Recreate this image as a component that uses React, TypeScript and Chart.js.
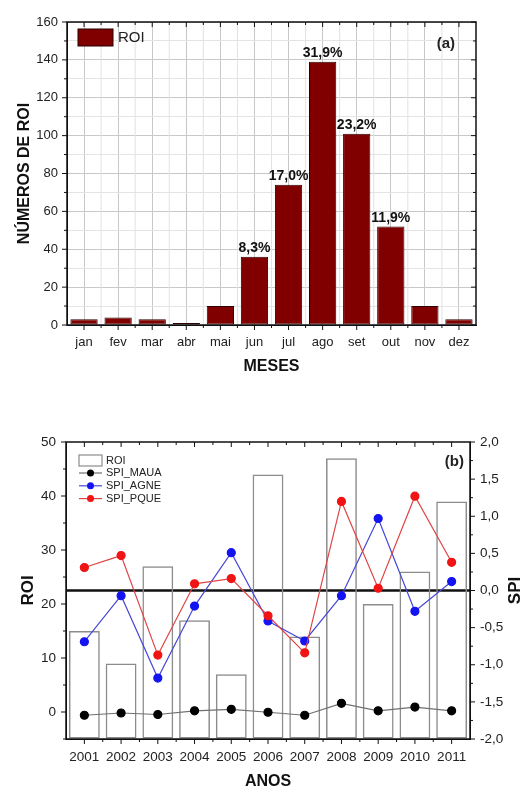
import React, { useEffect, useRef } from 'react';
import { Chart, registerables } from 'chart.js';

Chart.register(...registerables);

const FONT = "'Liberation Sans', Arial, Helvetica, sans-serif";

// ---- Chart (a) data ----
const months = ['jan', 'fev', 'mar', 'abr', 'mai', 'jun', 'jul', 'ago', 'set', 'out', 'nov', 'dez'];
const roiMonthly = [3, 4, 3, 1, 10, 36, 74, 139, 101, 52, 10, 3];
const pctLabels = ['', '', '', '', '', '8,3%', '17,0%', '31,9%', '23,2%', '11,9%', '', ''];
const yTicksA = [0, 20, 40, 60, 80, 100, 120, 140, 160];

// ---- Chart (b) data ----
const years = ['2001', '2002', '2003', '2004', '2005', '2006', '2007', '2008', '2009', '2010', '2011'];
const roiYearly = [15, 9, 27, 17, 7, 44, 14, 47, 20, 26, 39];
const spiMaua = [-1.68, -1.65, -1.67, -1.62, -1.6, -1.64, -1.68, -1.52, -1.62, -1.57, -1.62];
const spiAgne = [-0.69, -0.07, -1.18, -0.21, 0.51, -0.41, -0.68, -0.07, 0.97, -0.28, 0.12];
const spiPque = [0.31, 0.47, -0.87, 0.09, 0.16, -0.34, -0.84, 1.2, 0.03, 1.27, 0.38];

function seg(ctx: CanvasRenderingContext2D, x1: number, y1: number, x2: number, y2: number) {
  ctx.beginPath();
  ctx.moveTo(x1, y1);
  ctx.lineTo(x2, y2);
  ctx.stroke();
}

function catCenters(scale: any, n: number) {
  const out: number[] = [];
  for (let i = 0; i < n; i++) out.push(scale.getPixelForTick(i));
  return out;
}
function catBounds(scale: any, n: number) {
  const out: number[] = [];
  for (let i = 0; i < n - 1; i++) out.push((scale.getPixelForTick(i) + scale.getPixelForTick(i + 1)) / 2);
  return out;
}

const decorA = {
  id: 'decorA',
  beforeDatasetsDraw(chart: any) {
    const { ctx, chartArea: a, scales } = chart;
    ctx.save();
    ctx.strokeStyle = '#e2e2e2';
    ctx.lineWidth = 1;
    catBounds(scales.x, months.length).forEach((x) => seg(ctx, x, a.top, x, a.bottom));
    ctx.restore();
  },
  afterDatasetsDraw(chart: any) {
    const { ctx } = chart;
    const meta = chart.getDatasetMeta(0);
    ctx.save();
    ctx.fillStyle = '#111';
    ctx.font = `bold 14px ${FONT}`;
    ctx.textAlign = 'center';
    ctx.textBaseline = 'alphabetic';
    meta.data.forEach((bar: any, i: number) => {
      if (pctLabels[i]) ctx.fillText(pctLabels[i], bar.x, bar.y - 5);
    });
    ctx.restore();
  },
  afterDraw(chart: any) {
    const { ctx, chartArea: a, scales } = chart;
    ctx.save();
    ctx.strokeStyle = '#111';
    ctx.lineWidth = 1.5;
    ctx.strokeRect(a.left, a.top, a.right - a.left, a.bottom - a.top);
    ctx.lineWidth = 1;
    catCenters(scales.x, months.length).forEach((x) => {
      seg(ctx, x, a.bottom, x, a.bottom + 5);
      seg(ctx, x, a.top, x, a.top + 5);
    });
    catBounds(scales.x, months.length).forEach((x) => {
      seg(ctx, x, a.bottom, x, a.bottom + 3);
      seg(ctx, x, a.top, x, a.top + 3);
    });
    for (let v = 0; v <= 160; v += 10) {
      const y = scales.y.getPixelForValue(v);
      const len = v % 20 === 0 ? 5 : 3;
      seg(ctx, a.left - len, y, a.left, y);
      seg(ctx, a.right - len, y, a.right, y);
    }
    // legend
    const ds = chart.data.datasets[0];
    ctx.fillStyle = '#800000';
    ctx.fillRect(78, 29, 35, 17);
    ctx.strokeStyle = '#2b0000';
    ctx.strokeRect(78, 29, 35, 17);
    ctx.fillStyle = '#222';
    ctx.font = `15px ${FONT}`;
    ctx.textAlign = 'left';
    ctx.textBaseline = 'middle';
    ctx.fillText(ds.label, 118, 38);
    ctx.font = `bold 15px ${FONT}`;
    ctx.textAlign = 'right';
    ctx.fillText('(a)', 455, 44);
    ctx.restore();
  },
};

const decorB = {
  id: 'decorB',
  beforeDatasetsDraw(chart: any) {
    const { ctx, chartArea: a, scales } = chart;
    const y0 = scales.y1.getPixelForValue(0);
    ctx.save();
    ctx.strokeStyle = '#111';
    ctx.lineWidth = 2.5;
    seg(ctx, a.left, y0, a.right, y0);
    ctx.restore();
  },
  afterDraw(chart: any) {
    const { ctx, chartArea: a, scales } = chart;
    ctx.save();
    ctx.strokeStyle = '#111';
    ctx.lineWidth = 1.5;
    ctx.strokeRect(a.left, a.top, a.right - a.left, a.bottom - a.top);
    ctx.lineWidth = 1;
    catCenters(scales.x, years.length).forEach((x) => {
      seg(ctx, x, a.bottom, x, a.bottom + 5);
      seg(ctx, x, a.top, x, a.top + 5);
    });
    catBounds(scales.x, years.length).forEach((x) => {
      seg(ctx, x, a.bottom, x, a.bottom + 3);
      seg(ctx, x, a.top, x, a.top + 3);
    });
    for (let v = -5; v <= 50; v += 5) {
      const y = scales.y.getPixelForValue(v);
      const len = v % 10 === 0 ? 5 : 3;
      seg(ctx, a.left - len, y, a.left, y);
    }
    for (let k = -8; k <= 8; k++) {
      const y = scales.y1.getPixelForValue(k * 0.25);
      const len = k % 2 === 0 ? 5 : 3;
      seg(ctx, a.right, y, a.right + len, y);
    }
    // legend
    const dsets = chart.data.datasets;
    ctx.font = `11px ${FONT}`;
    ctx.textAlign = 'left';
    ctx.textBaseline = 'middle';
    const bar = dsets.find((d: any) => d.type === 'bar');
    ctx.strokeStyle = '#8c8c8c';
    ctx.lineWidth = 1.2;
    ctx.strokeRect(79, 45, 23, 11);
    ctx.fillStyle = '#222';
    ctx.fillText(bar.label, 106, 51);
    const lines = dsets.filter((d: any) => d.type === 'line');
    lines.forEach((d: any, i: number) => {
      const y = 63 + i * 12.8;
      ctx.strokeStyle = d.borderColor;
      ctx.lineWidth = 1.2;
      seg(ctx, 79, y, 102, y);
      ctx.fillStyle = d.pointBackgroundColor;
      ctx.beginPath();
      ctx.arc(90.5, y, 3.5, 0, Math.PI * 2);
      ctx.fill();
      ctx.fillStyle = '#222';
      ctx.fillText(d.label, 106, y);
    });
    ctx.fillStyle = '#222';
    ctx.font = `bold 15px ${FONT}`;
    ctx.textAlign = 'right';
    ctx.fillText('(b)', 464, 52);
    // right axis title
    ctx.save();
    ctx.translate(515, (a.top + a.bottom) / 2);
    ctx.rotate(-Math.PI / 2);
    ctx.textAlign = 'center';
    ctx.font = `bold 17px ${FONT}`;
    ctx.fillStyle = '#111';
    ctx.fillText('SPI', 0, 0);
    ctx.restore();
    ctx.restore();
  },
};

export default function App() {
  const refA = useRef<HTMLCanvasElement>(null);
  const refB = useRef<HTMLCanvasElement>(null);

  useEffect(() => {
    const tickFont = { family: FONT, size: 13 };
    const chartA = new Chart(refA.current as HTMLCanvasElement, {
      type: 'bar',
      data: {
        labels: months,
        datasets: [
          {
            label: 'ROI',
            data: roiMonthly,
            backgroundColor: '#800000',
            borderColor: '#2b0000',
            borderWidth: 1,
            borderSkipped: false,
            barPercentage: 0.8,
            categoryPercentage: 1,
          },
        ],
      },
      options: {
        responsive: false,
        animation: false,
        events: [],
        layout: { padding: { top: 22, right: 49, left: 0, bottom: 0 } },
        plugins: { legend: { display: false }, tooltip: { enabled: false } },
        scales: {
          x: {
            offset: true,
            grid: { offset: false, color: '#c8c8c8', drawTicks: false },
            border: { color: '#111', width: 1 },
            ticks: { color: '#222', font: tickFont, padding: 10, maxRotation: 0, autoSkip: false },
            title: {
              display: true,
              text: 'MESES',
              color: '#111',
              font: { family: FONT, size: 16, weight: 'bold' },
              padding: { top: 0, bottom: 24 },
            },
            afterFit: (s: any) => {
              s.height = 75;
            },
          },
          y: {
            min: 0,
            max: 160,
            ticks: {
              stepSize: 10,
              color: '#222',
              font: tickFont,
              padding: 9,
              callback: (v: any) => (yTicksA.includes(Number(v)) ? String(v) : ''),
            },
            grid: {
              color: (c: any) => (c.tick && c.tick.value % 20 === 0 ? '#c8c8c8' : '#e4e4e4'),
              drawTicks: false,
            },
            border: { color: '#111', width: 1 },
            title: {
              display: true,
              text: 'NÚMEROS DE ROI',
              color: '#111',
              font: { family: FONT, size: 16, weight: 'bold' },
              padding: { top: 15, bottom: 0 },
            },
            afterFit: (s: any) => {
              s.width = 67;
            },
          },
        },
      } as any,
      plugins: [decorA],
    });

    const tickFontB = { family: FONT, size: 13.5 };
    const chartB = new Chart(refB.current as HTMLCanvasElement, {
      type: 'bar',
      data: {
        labels: years,
        datasets: [
          {
            type: 'line',
            label: 'SPI_MAUA',
            data: spiMaua,
            yAxisID: 'y1',
            borderColor: '#707070',
            backgroundColor: '#000',
            pointBackgroundColor: '#000',
            pointBorderColor: '#000',
            pointRadius: 4,
            borderWidth: 1.2,
            tension: 0,
            order: 1,
          },
          {
            type: 'line',
            label: 'SPI_AGNE',
            data: spiAgne,
            yAxisID: 'y1',
            borderColor: '#4848d8',
            backgroundColor: '#1414f0',
            pointBackgroundColor: '#1414f0',
            pointBorderColor: '#1414f0',
            pointRadius: 4,
            borderWidth: 1.2,
            tension: 0,
            order: 1,
          },
          {
            type: 'line',
            label: 'SPI_PQUE',
            data: spiPque,
            yAxisID: 'y1',
            borderColor: '#e04545',
            backgroundColor: '#f01414',
            pointBackgroundColor: '#f01414',
            pointBorderColor: '#f01414',
            pointRadius: 4,
            borderWidth: 1.2,
            tension: 0,
            order: 0,
          },
          {
            type: 'bar',
            label: 'ROI',
            data: roiYearly,
            yAxisID: 'y',
            base: -5,
            backgroundColor: 'rgba(0,0,0,0)',
            borderColor: '#8c8c8c',
            borderWidth: 1.5,
            borderSkipped: false,
            barPercentage: 0.84,
            categoryPercentage: 1,
            order: 3,
          },
        ],
      } as any,
      options: {
        responsive: false,
        animation: false,
        events: [],
        layout: { padding: { top: 32, right: 0, left: 0, bottom: 0 } },
        plugins: { legend: { display: false }, tooltip: { enabled: false } },
        scales: {
          x: {
            offset: true,
            grid: { display: true, drawOnChartArea: false, drawTicks: false, offset: false },
            border: { color: '#111', width: 1 },
            ticks: { color: '#222', font: tickFontB, padding: 10, maxRotation: 0, minRotation: 0, autoSkip: false },
            title: {
              display: true,
              text: 'ANOS',
              color: '#111',
              font: { family: FONT, size: 16, weight: 'bold', lineHeight: 1 },
              padding: { top: 0, bottom: -2 },
            },
            afterFit: (s: any) => {
              s.height = 49;
            },
          },
          y: {
            position: 'left',
            min: -5,
            max: 50,
            ticks: {
              stepSize: 5,
              color: '#222',
              font: tickFontB,
              padding: 10,
              callback: (v: any) => (Number(v) >= 0 && Number(v) % 10 === 0 ? String(v) : ''),
            },
            grid: { display: true, drawOnChartArea: false, drawTicks: false },
            border: { color: '#111', width: 1 },
            title: {
              display: true,
              text: 'ROI',
              color: '#111',
              font: { family: FONT, size: 17, weight: 'bold' },
              padding: { top: 18, bottom: 0 },
            },
            afterFit: (s: any) => {
              s.width = 66;
            },
          },
          y1: {
            position: 'right',
            min: -2,
            max: 2,
            ticks: {
              stepSize: 0.5,
              color: '#222',
              font: tickFontB,
              padding: 10,
              callback: (v: any) => Number(v).toFixed(1).replace('.', ','),
            },
            grid: { display: true, drawOnChartArea: false, drawTicks: false },
            border: { color: '#111', width: 1 },
            afterFit: (s: any) => {
              s.width = 55;
            },
          },
        },
      } as any,
      plugins: [decorB],
    });

    return () => {
      chartA.destroy();
      chartB.destroy();
    };
  }, []);

  return (
    <div style={{ position: 'absolute', left: 0, top: 0, width: 525, height: 788, background: '#fff', overflow: 'hidden' }}>
      <canvas ref={refA} width={525} height={400} style={{ position: 'absolute', left: 0, top: 0, display: 'block' }} />
      <canvas ref={refB} width={525} height={378} style={{ position: 'absolute', left: 0, top: 410, display: 'block' }} />
    </div>
  );
}
